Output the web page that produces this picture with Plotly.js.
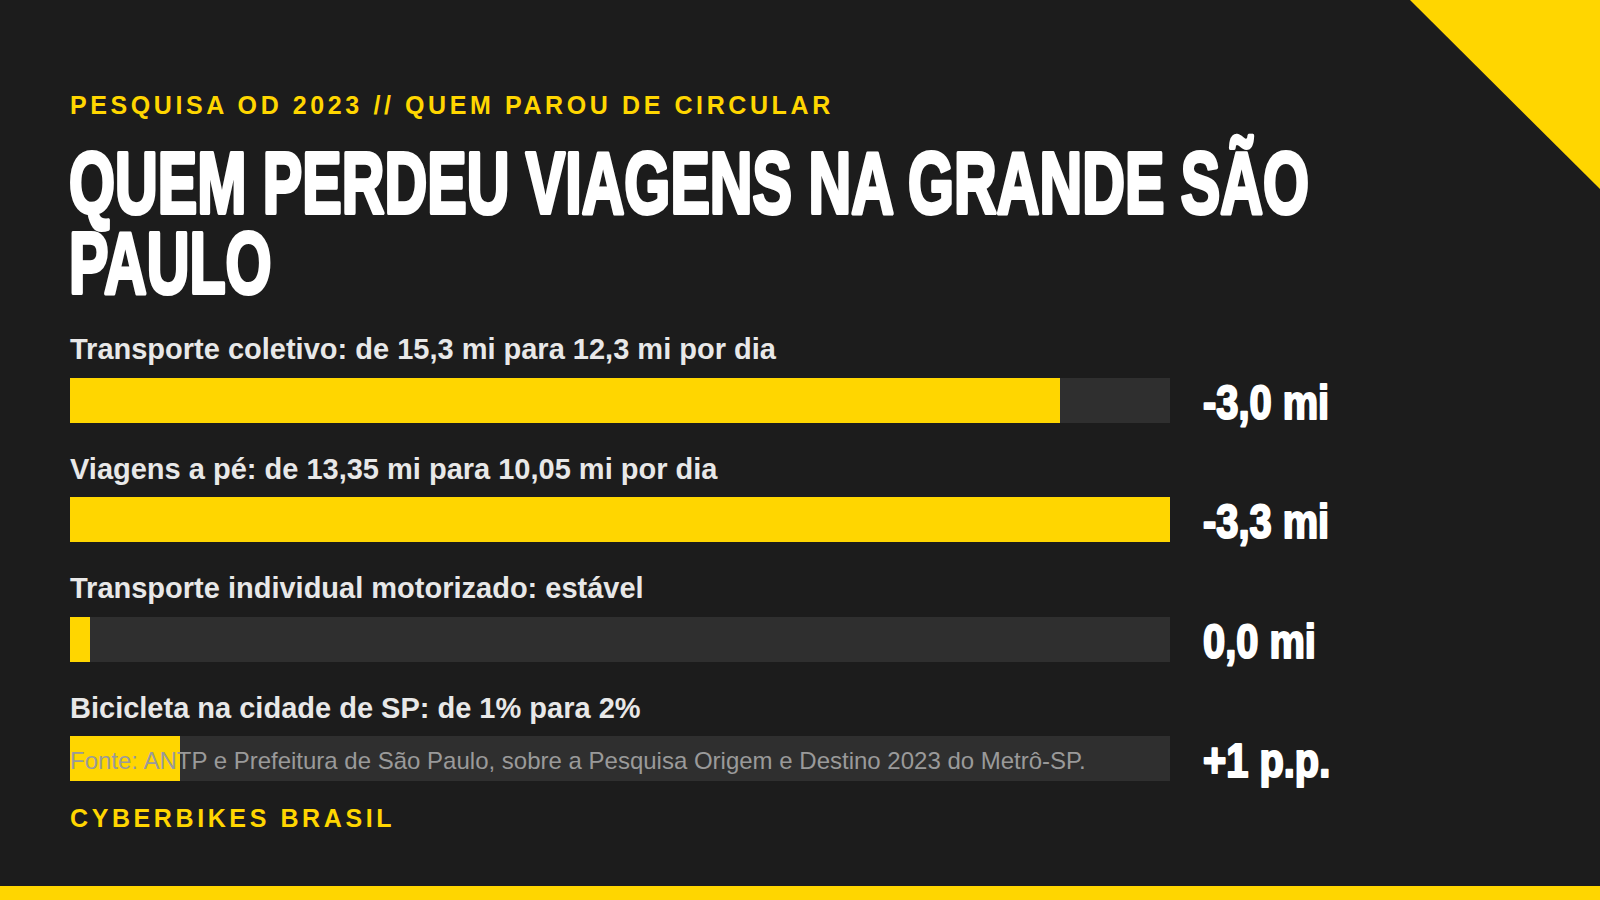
<!DOCTYPE html>
<html>
<head>
<meta charset="utf-8">
<script src="https://cdn.plot.ly/plotly-3.0.1.min.js"></script>
<style>
html,body{margin:0;padding:0;background:#1c1c1c;}
#chart{width:1600px;height:900px;}
</style>
</head>
<body>
<div id="chart"></div>
<script>
// ---- data ----
const categorias = [
  "Transporte coletivo: de 15,3 mi para 12,3 mi por dia",
  "Viagens a pé: de 13,35 mi para 10,05 mi por dia",
  "Transporte individual motorizado: estável",
  "Bicicleta na cidade de SP: de 1% para 2%"
];
const variacaoTexto = ["-3,0 mi", "-3,3 mi", "0,0 mi", "+1 p.p."];
const escalaBarra = [90, 100, 1.8, 10];   // bar length, % of the track
const escalaMax = 100;
const kicker = "PESQUISA OD 2023 // QUEM PAROU DE CIRCULAR";
const tituloLinhas = ["QUEM PERDEU VIAGENS NA GRANDE SÃO", "PAULO"];
const fonte = "Fonte: ANTP e Prefeitura de São Paulo, sobre a Pesquisa Origem e Destino 2023 do Metrô-SP.";
const assinatura = "CYBERBIKES BRASIL";

// ---- style ----
const BG = "#1c1c1c", YEL = "#ffd600", TRACK = "#2f2f2f";
const SANS = "Liberation Sans, Arial, sans-serif";
const W = 1600, H = 900;
const py = v => 1 - v / H;

const idx = categorias.map((_, i) => i);

const trilho = {
  type: "bar", orientation: "h",
  y: idx, x: idx.map(() => escalaMax),
  marker: {color: TRACK}, width: 0.373,
  hoverinfo: "skip", showlegend: false
};
const barras = {
  type: "bar", orientation: "h",
  y: idx, x: escalaBarra,
  marker: {color: YEL}, width: 0.373,
  hoverinfo: "skip", showlegend: false
};

const ann = [];
const spaced = [], condensed = [];   // annotation indices for post styling
spaced.push(ann.length);
ann.push({xref: "paper", yref: "paper", x: 68 / W, y: py(105), xanchor: "left", yanchor: "middle", align: "left",
  text: "<b>" + kicker + "</b>", showarrow: false,
  font: {family: SANS, size: 25, color: YEL}});
const titleY = [182.5, 262.5];
tituloLinhas.forEach((t, i) => {
  condensed.push({i: ann.length, s: 0.68, w: 4});
  ann.push({xref: "paper", yref: "paper", x: 67 / W, y: py(titleY[i]),
    xanchor: "left", yanchor: "middle", align: "left", text: "<b>" + t + "</b>", showarrow: false,
    font: {family: SANS, size: 87, color: "#ffffff"}});
});
categorias.forEach((c, i) => {
  ann.push({xref: "x", yref: "y", x: 0, y: i, xanchor: "left", yanchor: "middle", align: "left",
    xshift: -2, yshift: 51,
    text: "<b>" + c + "</b>", showarrow: false,
    font: {family: SANS, size: 29, color: "#e8e8e8"}});
  condensed.push({i: ann.length, s: 0.83, w: 2.2});
  ann.push({xref: "x", yref: "y", x: escalaMax, y: i, xanchor: "left", yanchor: "middle", align: "left",
    xshift: 31, yshift: -2,
    text: "<b>" + variacaoTexto[i] + "</b>", showarrow: false,
    font: {family: SANS, size: 48, color: "#ffffff"}});
});
ann.push({xref: "x", yref: "y", x: 0, y: 3, xanchor: "left", yanchor: "middle", align: "left",
  xshift: -2, yshift: -2,
  text: fonte, showarrow: false, font: {family: SANS, size: 24, color: "#9a9a9a"}});
spaced.push(ann.length);
ann.push({xref: "paper", yref: "paper", x: 68 / W, y: py(818), xanchor: "left", yanchor: "middle", align: "left",
  text: "<b>" + assinatura + "</b>", showarrow: false,
  font: {family: SANS, size: 25, color: YEL}});

const layout = {
  width: W, height: H,
  margin: {l: 0, r: 0, t: 0, b: 0},
  paper_bgcolor: BG, plot_bgcolor: "rgba(0,0,0,0)",
  barmode: "overlay", bargap: 0,
  xaxis: {domain: [70 / W, 1170 / W], range: [0, escalaMax], visible: false, fixedrange: true},
  yaxis: {domain: [1 - 818.5 / H, 1 - 340.5 / H], range: [3.5, -0.5], visible: false, fixedrange: true},
  shapes: [
    {type: "path", xref: "paper", yref: "paper", layer: "below",
      path: "M 0.88125 1 L 1 1 L 1 " + py(189) + " Z", fillcolor: YEL, line: {width: 0}},
    {type: "rect", xref: "paper", yref: "paper", layer: "below",
      x0: 0, x1: 1, y0: 0, y1: 1 - 886 / H, fillcolor: YEL, line: {width: 0}}
  ],
  annotations: ann
};

Plotly.newPlot("chart", [trilho, barras], layout, {staticPlot: true, displayModeBar: false}).then(() => {
  spaced.forEach(i => document.querySelectorAll('.annotation[data-index="' + i + '"] text')
    .forEach(t => t.style.letterSpacing = "3.6px"));
  condensed.forEach(o => document.querySelectorAll('.annotation[data-index="' + o.i + '"] text.annotation-text')
    .forEach(t => {
      const bb = t.getBBox();
      const x0 = bb.x;
      const prev = t.getAttribute("transform") || "";
      t.setAttribute("transform", (prev + " matrix(" + o.s + ",0,0,1," + ((1 - o.s) * x0) + ",0)").trim());
      t.style.stroke = "#ffffff";
      t.style.strokeWidth = o.w + "px";
      t.style.strokeLinejoin = "round";
    }));
});
</script>
</body>
</html>
